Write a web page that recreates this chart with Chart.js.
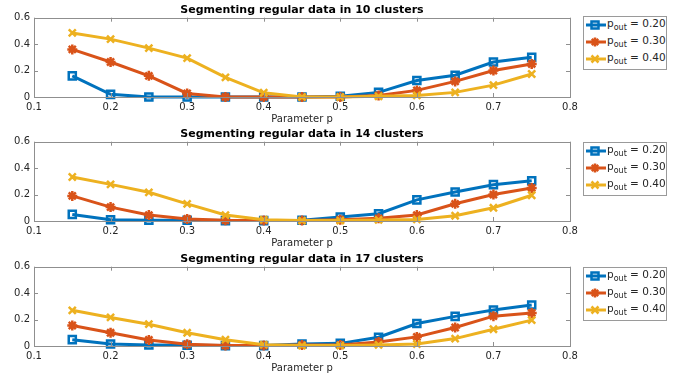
<!DOCTYPE html>
<html lang="en">
  <head>
    <meta charset="UTF-8" />
    <title>Segmenting regular data</title>
    <script src="https://cdn.jsdelivr.net/npm/chart.js"></script>
    <style>
      body { margin: 0; background: #fff; width: 688px; height: 375px; overflow: hidden; }
      .painel { position: absolute; left: 0; width: 688px; height: 125px; }
      .titulo {
        position: absolute; left: 34px; width: 536px; top: 2.5px; line-height: 13px;
        text-align: center; white-space: nowrap;
        font-family: "DejaVu Sans", sans-serif; font-size: 11px; font-weight: bold; color: #000;
      }
      .legenda {
        position: absolute; left: 583px; width: 82px; height: 52px;
        border: 1px solid #9a9a9a; background: #fff;
        font-family: "DejaVu Sans", sans-serif; font-size: 10.5px; color: #262626;
      }
      .linha { position: absolute; left: 1px; height: 17px; white-space: nowrap; }
      .linha svg { position: absolute; left: 0; top: 0; }
      .linha span { position: absolute; left: 22px; top: 0px; }
      .linha sub { font-size: 8px; vertical-align: -3px; }
    </style>
  </head>
  <body>
    <div class="painel" style="top:0"><canvas id="g10"></canvas><div class="titulo" id="t10"></div></div>
    <div class="painel" style="top:124px"><canvas id="g14"></canvas><div class="titulo" id="t14"></div></div>
    <div class="painel" style="top:249px"><canvas id="g17"></canvas><div class="titulo" id="t17"></div></div>
  </body>
</html>

<script>
  var parametroP = [0.15, 0.2, 0.25, 0.3, 0.35, 0.4, 0.45, 0.5, 0.55, 0.6, 0.65, 0.7, 0.75];
  var rotulosPout = ["0.20", "0.30", "0.40"];
  var titulos = ["Segmenting regular data in 10 clusters", "Segmenting regular data in 14 clusters", "Segmenting regular data in 17 clusters"];
  var ticksX = [0.1, 0.2, 0.3, 0.4, 0.5, 0.6, 0.7, 0.8];
  var ticksY = [0, 0.2, 0.4, 0.6];

  // 10 clusters
  var azul10 = [0.16, 0.02, 0.0, 0.0, 0.0, 0.0, 0.0, 0.005, 0.035, 0.125, 0.165, 0.265, 0.30];
  var laranja10 = [0.36, 0.265, 0.16, 0.027, 0.0, 0.0, 0.0, 0.0, 0.012, 0.05, 0.118, 0.20, 0.25];
  var amarelo10 = [0.485, 0.438, 0.37, 0.294, 0.148, 0.032, 0.0, 0.0, 0.005, 0.012, 0.035, 0.09, 0.174];

  // 14 clusters
  var azul14 = [0.05, 0.01, 0.005, 0.005, 0.003, 0.003, 0.005, 0.03, 0.055, 0.16, 0.22, 0.275, 0.305];
  var laranja14 = [0.19, 0.105, 0.045, 0.015, 0.005, 0.003, 0.003, 0.01, 0.02, 0.045, 0.13, 0.20, 0.25];
  var amarelo14 = [0.333, 0.277, 0.217, 0.13, 0.045, 0.01, 0.003, 0.003, 0.008, 0.012, 0.04, 0.10, 0.195];

  // 17 clusters
  var azul17 = [0.048, 0.015, 0.008, 0.005, 0.003, 0.003, 0.015, 0.02, 0.066, 0.17, 0.224, 0.272, 0.31];
  var laranja17 = [0.155, 0.10, 0.046, 0.013, 0.003, 0.003, 0.008, 0.008, 0.03, 0.069, 0.14, 0.226, 0.25];
  var amarelo17 = [0.27, 0.216, 0.165, 0.10, 0.048, 0.01, 0.003, 0.003, 0.008, 0.015, 0.056, 0.127, 0.196];

  var cores = ["#0072BD", "#D95319", "#EDB120"];
  var marcadores = ["rect", "star", "crossRot"];
  var corEixo = "#262626";
  var corCaixa = "#8f8f8f";

  // caixa e ticks para dentro, estilo matlab
  var caixaPlugin = {
    id: "caixa",
    afterDraw: function (chart) {
      var ctx = chart.ctx;
      var a = chart.chartArea;
      var sx = chart.scales.x, sy = chart.scales.y;
      ctx.save();
      ctx.strokeStyle = corCaixa;
      ctx.lineWidth = 1;
      ctx.strokeRect(Math.round(a.left) + 0.5, Math.round(a.top) + 0.5, Math.round(a.right - a.left), Math.round(a.bottom - a.top));
      ctx.beginPath();
      ticksX.forEach(function (v) {
        var px = Math.round(sx.getPixelForValue(v)) + 0.5;
        ctx.moveTo(px, a.bottom); ctx.lineTo(px, a.bottom - 4);
        ctx.moveTo(px, a.top); ctx.lineTo(px, a.top + 4);
      });
      ticksY.forEach(function (v) {
        var py = Math.round(sy.getPixelForValue(v)) + 0.5;
        ctx.moveTo(a.left, py); ctx.lineTo(a.left + 4, py);
        ctx.moveTo(a.right, py); ctx.lineTo(a.right - 4, py);
      });
      ctx.stroke();
      ctx.restore();
    },
  };

  function serie(i, valores) {
    return {
      label: "p_out = " + rotulosPout[i],
      data: parametroP.map(function (p, k) { return { x: p, y: valores[k] }; }),
      borderColor: cores[i],
      backgroundColor: cores[i],
      borderWidth: 3,
      pointStyle: marcadores[i],
      pointRadius: 5,
      pointBorderWidth: 2.5,
      pointBackgroundColor: "rgba(0,0,0,0)",
      pointBorderColor: cores[i],
      order: 2 - i,
      clip: false,
      tension: 0,
    };
  }

  function criarG(id, titulo, azul, laranja, amarelo) {
    var ctxx = document.getElementById("g" + id);
    ctxx.width = 688;
    ctxx.height = 125;
    document.getElementById("t" + id).textContent = titulo;
    new Chart(ctxx, {
      type: "line",
      data: { datasets: [serie(0, azul), serie(1, laranja), serie(2, amarelo)] },
      options: {
        responsive: false,
        animation: false,
        layout: { padding: { left: 0, right: 118, top: 17.7, bottom: 0 } },
        plugins: {
          legend: { display: false },
          tooltip: { enabled: false },
          title: { display: false },
        },
        scales: {
          x: {
            type: "linear",
            min: 0.1,
            max: 0.8,
            afterBuildTicks: function (s) { s.ticks = ticksX.map(function (v) { return { value: v }; }); },
            afterFit: function (s) { s.height = 28; },
            grid: { display: false, drawTicks: false },
            border: { display: false },
            ticks: {
              color: corEixo,
              padding: 4,
              maxRotation: 0,
              font: { family: "DejaVu Sans", size: 10 },
              callback: function (v) { return v.toFixed(1); },
            },
            title: {
              display: true,
              text: "Parameter p",
              color: corEixo,
              font: { family: "DejaVu Sans", size: 10 },
              padding: { top: 0, bottom: 0 },
            },
          },
          y: {
            min: 0,
            max: 0.6,
            afterBuildTicks: function (s) { s.ticks = ticksY.map(function (v) { return { value: v }; }); },
            afterFit: function (s) { s.width = 34; },
            grid: { display: false, drawTicks: false },
            border: { display: false },
            ticks: {
              color: corEixo,
              padding: 4,
              font: { family: "DejaVu Sans", size: 10 },
              callback: function (v) { return v == 0 ? "0" : v.toFixed(1); },
            },
          },
        },
      },
      plugins: [caixaPlugin],
    });
  }

  // legenda em html por causa do subscrito
  function icone(i) {
    var m = "";
    var c = cores[i];
    if (i == 0) m = '<rect x="6.5" y="4.5" width="7" height="7" fill="none" stroke="' + c + '" stroke-width="2.5"/>';
    if (i == 1) m = '<path d="M10 3.5V12.5M5.5 8H14.5M6.8 4.8L13.2 11.2M13.2 4.8L6.8 11.2" stroke="' + c + '" stroke-width="2.5"/>';
    if (i == 2) m = '<path d="M6.5 4.5L13.5 11.5M13.5 4.5L6.5 11.5" stroke="' + c + '" stroke-width="2.5"/>';
    return '<svg width="21" height="16"><line x1="1" y1="8" x2="21" y2="8" stroke="' + c + '" stroke-width="3"/>' + m + "</svg>";
  }

  function criarLegenda(topo) {
    var div = document.createElement("div");
    div.className = "legenda";
    div.style.top = topo + "px";
    var html = "";
    rotulosPout.forEach(function (r, i) {
      html += '<div class="linha" style="top:' + (0 + i * 17) + 'px">' + icone(i) + "<span>p<sub>out</sub> = " + r + "</span></div>";
    });
    div.innerHTML = html;
    document.body.appendChild(div);
  }

  criarG("10", titulos[0], azul10, laranja10, amarelo10);
  criarG("14", titulos[1], azul14, laranja14, amarelo14);
  criarG("17", titulos[2], azul17, laranja17, amarelo17);
  criarLegenda(16);
  criarLegenda(142);
  criarLegenda(267);
</script>
